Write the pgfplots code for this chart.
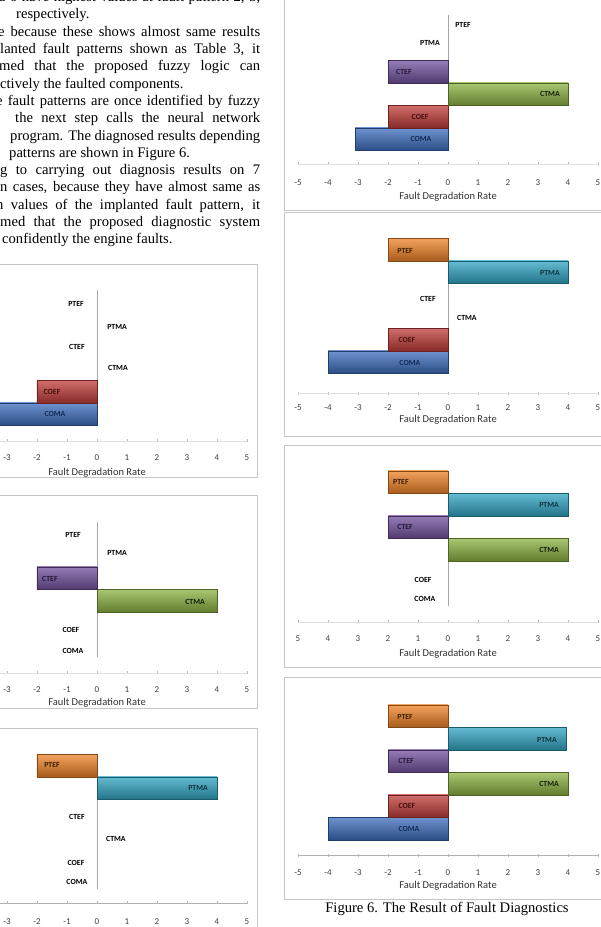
\documentclass[border=0pt]{standalone}
\usepackage{pgfplots}
\pgfplotsset{compat=1.18}
\usepackage{fontspec}
\setmainfont{Liberation Serif}
\newfontfamily\calfont{Carlito}
\definecolor{cblue}{HTML}{3F6FC0}
\definecolor{cred}{HTML}{C23E3A}
\definecolor{cgreen}{HTML}{8DB443}
\definecolor{cpurple}{HTML}{7352A0}
\definecolor{ccyan}{HTML}{32A6C4}
\definecolor{corange}{HTML}{F08428}
\definecolor{tblue}{HTML}{142B55}
\definecolor{tred}{HTML}{4A1210}
\definecolor{tgreen}{HTML}{16200A}
\definecolor{tpurple}{HTML}{241838}
\definecolor{tcyan}{HTML}{0E3440}
\definecolor{torange}{HTML}{3C1E06}
\pgfplotsset{
  panel/.style 2 args={
    x=30pt, y=22.5pt, xmin=-5, xmax=5, ymax=5.5,
    anchor=origin, clip=false,
    axis x line*=bottom, axis y line=none,
    xtick={-5,-4,-3,-2,-1,0,1,2,3,4,5}, ytick=\empty,
    tick align=center, major tick length=3pt,
    tick style={gray!55, line width=0.4pt},
    axis line style={gray!25, line width=0.5pt},
    xticklabel style={anchor=center, yshift=-#1pt, font=\calfont\fontsize{9}{9}\selectfont, text=black!75},
    xlabel={Fault Degradation Rate},
    xlabel style={at={(axis description cs:0.5,0)}, anchor=center, yshift=-#2pt, font=\calfont\fontsize{10.5}{11}\selectfont, text=black!80},
  },
  bbar/.style={xbar, bar width=22.5pt, top color=#1!75!white, middle color=#1, bottom color=#1!70!black, draw=#1!55!black, line width=0.4pt},
}
\tikzset{lab/.style={font=\calfont\bfseries\fontsize{7.8}{8}\selectfont, inner sep=0pt}}
\newcommand{\zeroline}{\draw[gray!70, line width=0.6pt] (axis cs:0,-0.5) -- (axis cs:0,5.5);}
\newcommand{\jl}[4]{\node[anchor=base west, inner sep=0pt] at (#1pt,#2pt) {\makebox[#3pt][s]{#4}};}
\newcommand{\rl}[3]{\node[anchor=base west, inner sep=0pt] at (#1pt,#2pt) {#3};}
\begin{document}
\begin{tikzpicture}
\useasboundingbox (0pt,0pt) rectangle (601pt,927pt);
\clip (0pt,0pt) rectangle (601pt,927pt);
\fill[white] (0pt,0pt) rectangle (601pt,927pt);
% body text
\begin{scope}[font=\fontsize{14.6}{17}\selectfont]
\jl{-2}{925.3}{262}{d 6 have highest values at fault pattern 2, 3,}
\rl{16}{908}{respectively.}
\jl{-2}{890.7}{262}{e because these shows almost same results}
\jl{0}{873.4}{260}{lanted fault patterns shown as Table 3, it}
\jl{-1}{856.1}{261}{med that the proposed fuzzy logic can}
\rl{0}{838.8}{ctively the faulted components.}
\jl{-4}{821.5}{264}{e fault patterns are once identified by fuzzy}
\jl{15}{804.2}{245}{the next step calls the neural network}
\jl{10}{786.9}{250}{program. The diagnosed results depending}
\rl{9}{769.6}{patterns are shown in Figure 6.}
\jl{0}{752.3}{260}{g to carrying out diagnosis results on 7}
\jl{0}{735}{260}{n cases, because they have almost same as}
\jl{-4}{717.7}{264}{n values of the implanted fault pattern, it}
\jl{0}{700.4}{260}{med that the proposed diagnostic system}
\rl{2}{683.1}{confidently the engine faults.}
\end{scope}
% caption
\node[anchor=base, inner sep=0pt, font=\fontsize{14.6}{16}\selectfont] at (447pt,14pt) {Figure 6. The Result of Fault Diagnostics};
% frames
\begin{scope}[draw=gray!45, line width=0.8pt]
\draw (284pt,717pt) rectangle (620pt,940pt);
\draw (284pt,491pt) rectangle (620pt,715pt);
\draw (284pt,260pt) rectangle (620pt,482pt);
\draw (284pt,28pt) rectangle (620pt,250pt);
\draw (-10pt,450pt) rectangle (257pt,663pt);
\draw (-10pt,219pt) rectangle (257pt,432pt);
\draw (-10pt,-20pt) rectangle (257pt,199pt);
\end{scope}
% Panel A (right, top)
\begin{axis}[panel={17}{33}, at={(448pt,788pt)}, ymin=-1.11,
  xticklabels={-5,-4,-3,-2,-1,0,1,2,3,4,5}]
\zeroline
\addplot[bbar=cblue] coordinates {(-3.1,0)};
\addplot[bbar=cred] coordinates {(-2,1)};
\addplot[bbar=cgreen] coordinates {(4,2)};
\addplot[bbar=cpurple] coordinates {(-2,3)};
\node[lab] at (axis cs:0.5,5.07) {PTEF};
\node[lab] at (axis cs:-0.6,4.27) {PTMA};
\node[lab, text=tpurple] at (axis cs:-1.47,3) {CTEF};
\node[lab, text=tgreen] at (axis cs:3.4,2) {CTMA};
\node[lab, text=tred] at (axis cs:-0.93,1) {COEF};
\node[lab, text=tblue] at (axis cs:-0.9,0) {COMA};
\end{axis}
% Panel B
\begin{axis}[panel={13}{27}, at={(448pt,565pt)}, ymin=-1.38,
  xticklabels={-5,-4,-3,-2,-1,0,1,2,3,4,5}]
\zeroline
\addplot[bbar=cblue] coordinates {(-4,0)};
\addplot[bbar=cred] coordinates {(-2,1)};
\addplot[bbar=ccyan] coordinates {(4,4)};
\addplot[bbar=corange] coordinates {(-2,5)};
\node[lab, text=torange] at (axis cs:-1.43,4.93) {PTEF};
\node[lab, text=tcyan] at (axis cs:3.4,3.96) {PTMA};
\node[lab] at (axis cs:-0.67,2.8) {CTEF};
\node[lab] at (axis cs:0.63,1.96) {CTMA};
\node[lab, text=tred] at (axis cs:-1.37,0.98) {COEF};
\node[lab, text=tblue] at (axis cs:-1.27,-0.04) {COMA};
\end{axis}
% Panel C
\begin{axis}[panel={15.5}{31.5}, at={(448pt,332.5pt)}, ymin=-1.22,
  xticklabels={5,4,3,2,1,0,1,2,3,4,5}]
\zeroline
\addplot[bbar=cgreen] coordinates {(4,2)};
\addplot[bbar=cpurple] coordinates {(-2,3)};
\addplot[bbar=ccyan] coordinates {(4,4)};
\addplot[bbar=corange] coordinates {(-2,5)};
\node[lab, text=torange] at (axis cs:-1.57,5) {PTEF};
\node[lab, text=tcyan] at (axis cs:3.37,3.98) {PTMA};
\node[lab, text=tpurple] at (axis cs:-1.43,3) {CTEF};
\node[lab, text=tgreen] at (axis cs:3.37,1.98) {CTMA};
\node[lab] at (axis cs:-0.83,0.64) {COEF};
\node[lab] at (axis cs:-0.77,-0.2) {COMA};
\end{axis}
% Panel D
\begin{axis}[panel={16.5}{31}, at={(448pt,98.5pt)}, ymin=-1.18,
  axis line style={gray!60, line width=0.6pt},
  xticklabels={-5,-4,-3,-2,-1,0,1,2,3,4,5}]
\zeroline
\addplot[bbar=cblue] coordinates {(-4,0)};
\addplot[bbar=cred] coordinates {(-2,1)};
\addplot[bbar=cgreen] coordinates {(4,2)};
\addplot[bbar=cpurple] coordinates {(-2,3)};
\addplot[bbar=ccyan] coordinates {(3.95,4)};
\addplot[bbar=corange] coordinates {(-2,5)};
\node[lab, text=torange] at (axis cs:-1.43,4.96) {PTEF};
\node[lab, text=tcyan] at (axis cs:3.3,3.93) {PTMA};
\node[lab, text=tpurple] at (axis cs:-1.4,3) {CTEF};
\node[lab, text=tgreen] at (axis cs:3.37,1.98) {CTMA};
\node[lab, text=tred] at (axis cs:-1.37,1) {COEF};
\node[lab, text=tblue] at (axis cs:-1.3,0) {COMA};
\end{axis}
% Panel L1
\begin{axis}[panel={15}{31.5}, at={(97pt,513pt)}, ymin=-1.2,
  xticklabels={-5,-4,-3,-2,-1,0,1,2,3,4,5}]
\zeroline
\addplot[bbar=cblue] coordinates {(-4,0)};
\addplot[bbar=cred] coordinates {(-2,1)};
\node[lab] at (axis cs:-0.7,4.89) {PTEF};
\node[lab] at (axis cs:0.67,3.87) {PTMA};
\node[lab] at (axis cs:-0.67,2.98) {CTEF};
\node[lab] at (axis cs:0.7,2.04) {CTMA};
\node[lab, text=tred] at (axis cs:-1.5,0.98) {COEF};
\node[lab, text=tblue] at (axis cs:-1.4,0) {COMA};
\end{axis}
% Panel L2
\begin{axis}[panel={15.5}{29.5}, at={(97pt,281.5pt)}, ymin=-1.22,
  xticklabels={-5,-4,-3,-2,-1,0,1,2,3,4,5}]
\zeroline
\addplot[bbar=cgreen] coordinates {(4,2)};
\addplot[bbar=cpurple] coordinates {(-2,3)};
\node[lab] at (axis cs:-0.8,4.91) {PTEF};
\node[lab] at (axis cs:0.67,4.11) {PTMA};
\node[lab, text=tpurple] at (axis cs:-1.57,2.96) {CTEF};
\node[lab, text=tgreen] at (axis cs:3.27,1.93) {CTMA};
\node[lab] at (axis cs:-0.87,0.69) {COEF};
\node[lab] at (axis cs:-0.8,-0.24) {COMA};
\end{axis}
% Panel L3
\begin{axis}[panel={17.5}{32}, at={(97pt,49pt)}, ymin=-1.11,
  axis line style={gray!60, line width=0.6pt},
  xticklabels={-5,-4,-3,-2,-1,0,1,2,3,4,5}]
\zeroline
\addplot[bbar=ccyan] coordinates {(4,4)};
\addplot[bbar=corange] coordinates {(-2,5)};
\node[lab, text=torange] at (axis cs:-1.5,5.02) {PTEF};
\node[lab, text=tcyan] at (axis cs:3.37,4) {PTMA};
\node[lab] at (axis cs:-0.67,2.71) {CTEF};
\node[lab] at (axis cs:0.63,1.73) {CTMA};
\node[lab] at (axis cs:-0.7,0.67) {COEF};
\node[lab] at (axis cs:-0.67,-0.18) {COMA};
\end{axis}
\end{tikzpicture}
\end{document}
